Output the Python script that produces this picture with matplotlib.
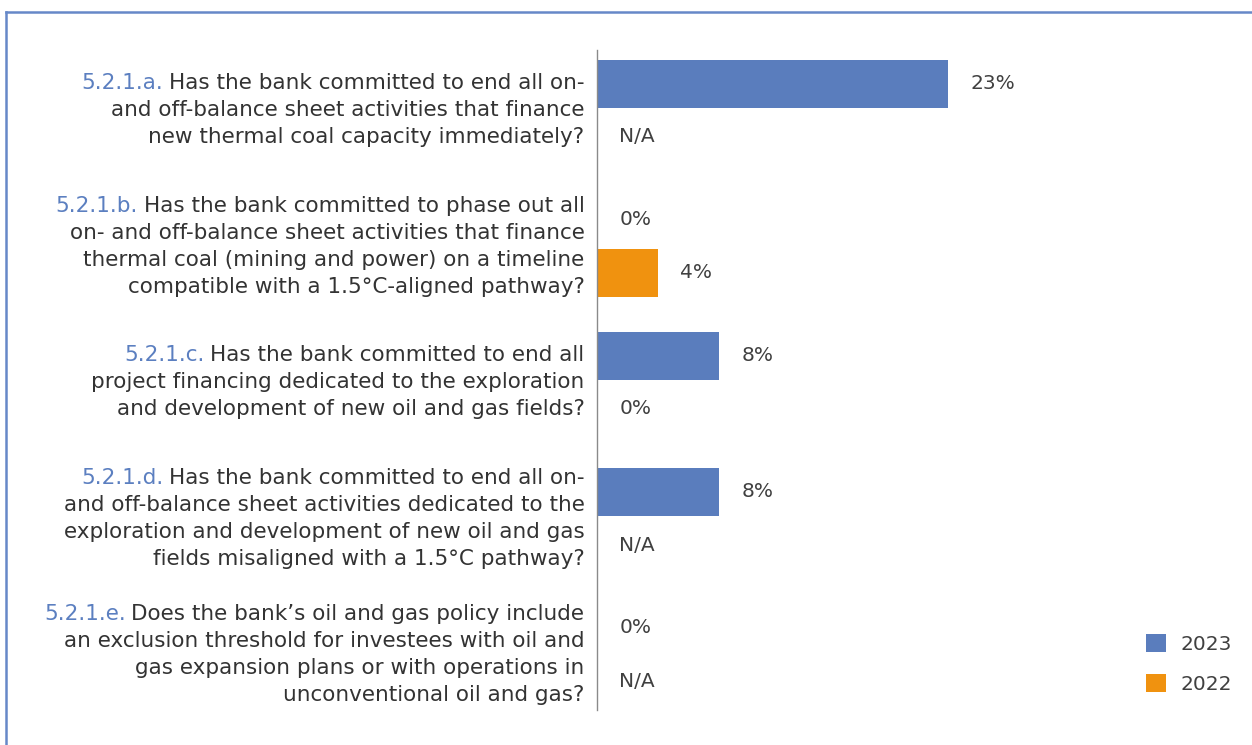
import matplotlib

matplotlib.use("Agg")
import matplotlib.pyplot as plt
from matplotlib.lines import Line2D
from matplotlib.patches import Patch

plt.rcParams["font.family"] = ["DejaVu Sans"]

PREFIXES = ["5.2.1.a.", "5.2.1.b.", "5.2.1.c.", "5.2.1.d.", "5.2.1.e."]
QUESTION_LINES = [
    [
        "Has the bank committed to end all on-",
        "and off-balance sheet activities that finance",
        "new thermal coal capacity immediately?",
    ],
    [
        "Has the bank committed to phase out all",
        "on- and off-balance sheet activities that finance",
        "thermal coal (mining and power) on a timeline",
        "compatible with a 1.5°C-aligned pathway?",
    ],
    [
        "Has the bank committed to end all",
        "project financing dedicated to the exploration",
        "and development of new oil and gas fields?",
    ],
    [
        "Has the bank committed to end all on-",
        "and off-balance sheet activities dedicated to the",
        "exploration and development of new oil and gas",
        "fields misaligned with a 1.5°C pathway?",
    ],
    [
        "Does the bank’s oil and gas policy include",
        "an exclusion threshold for investees with oil and",
        "gas expansion plans or with operations in",
        "unconventional oil and gas?",
    ],
]
SERIES = ["2023", "2022"]
VALUES_2023 = [23, 0, 8, 8, 0]
VALUES_2022 = [None, 4, 0, None, None]  # None = N/A

BLUE = "#5a7dbd"
ORANGE = "#f0920f"
PREFIX_BLUE = "#5b7fc0"
TEXT = "#333333"
VALUE_TEXT = "#404040"

fig = plt.figure(figsize=(12.52, 7.45), dpi=100)
ax = fig.add_axes([0.4768, 0.047, 0.4266, 0.886])

offset = 0.195
bar_h = 0.355
for i, (v23, v22) in enumerate(zip(VALUES_2023, VALUES_2022)):
    for val, dy, color in ((v23, -offset, BLUE), (v22, offset, ORANGE)):
        y = i + dy
        if val is None:
            label = "N/A"
        else:
            if val > 0:
                ax.barh(y, val, height=bar_h, color=color)
            label = f"{val}%"
        ax.annotate(label, xy=(val or 0, y), xytext=(16, 0), textcoords="offset points",
                    ha="left", va="center", fontsize=14.5, color=VALUE_TEXT)

ax.set_xlim(0, 35)
ax.set_ylim(4.408, -0.445)
for side in ("top", "right", "bottom"):
    ax.spines[side].set_visible(False)
ax.spines["left"].set_color("#8a8a8a")
ax.spines["left"].set_linewidth(1.0)
ax.set_xticks([])
ax.set_yticks([])

line_step = 27 * 72 / 100
ytrans = ax.get_yaxis_transform()
for i, (prefix, lines) in enumerate(zip(PREFIXES, QUESTION_LINES)):
    n = len(lines)
    for j, line in enumerate(lines):
        dy = ((n - 1) / 2 - j) * line_step
        t = ax.annotate(line, xy=(0, i), xycoords=ytrans, xytext=(-9, dy),
                        textcoords="offset points", ha="right", va="center",
                        fontsize=15.5, color=TEXT)
        if j == 0:
            ax.annotate(prefix, xy=(0, 0.5), xycoords=t, xytext=(-4, 0),
                        textcoords="offset points", ha="right", va="center",
                        fontsize=15.5, color=PREFIX_BLUE)

handles = [Patch(facecolor=BLUE, label=SERIES[0]), Patch(facecolor=ORANGE, label=SERIES[1])]
fig.legend(handles=handles, loc="center left", bbox_to_anchor=(0.901, 0.109),
           frameon=False, fontsize=14.5, handlelength=1.0, handleheight=1.0,
           labelspacing=1.0, handletextpad=0.7, labelcolor=VALUE_TEXT)

# blue frame (top and left edges visible)
fig.add_artist(Line2D([6 / 1252, 1], [1 - 12 / 745] * 2, transform=fig.transFigure,
                      color="#6688c8", lw=1.8))
fig.add_artist(Line2D([6 / 1252] * 2, [0, 1 - 12 / 745], transform=fig.transFigure,
                      color="#6688c8", lw=1.8))

fig.savefig("out.png", dpi=100)
